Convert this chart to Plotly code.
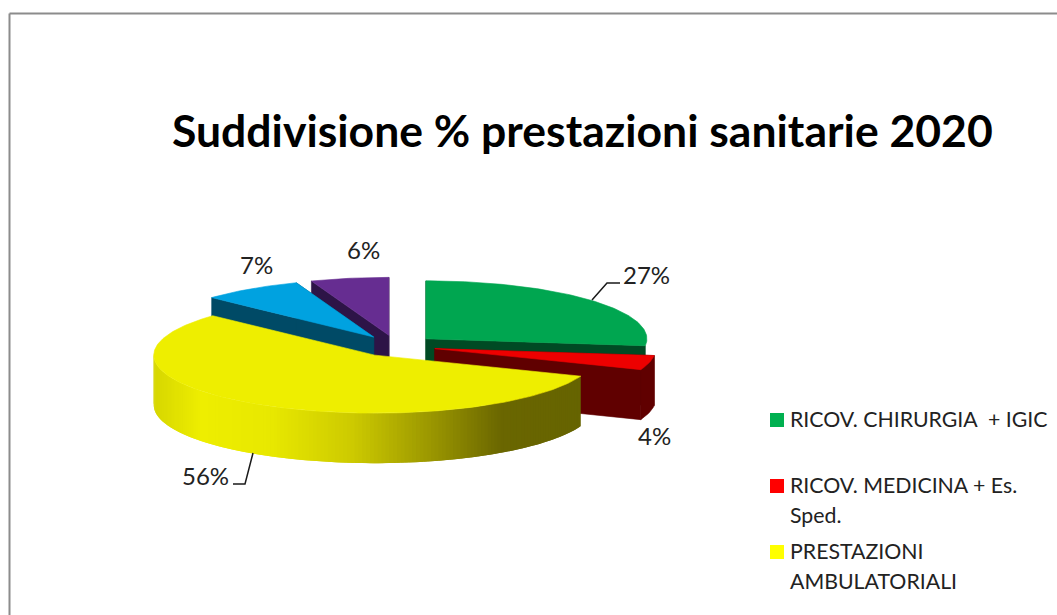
from __future__ import annotations

import numpy as np
import plotly.graph_objects as go


# slices, clockwise from 12 o'clock
CATEGORIES = [
    "RICOV. CHIRURGIA  + IGIC",
    "RICOV. MEDICINA + Es. Sped.",
    "PRESTAZIONI AMBULATORIALI",
    "Blu",
    "Viola",
]
VALUES = [26.9, 4.0, 56.0, 7.4, 5.7]
LABELS = ["27%", "4%", "56%", "7%", "6%"]
LEGEND_LINES = [
    ["RICOV. CHIRURGIA  + IGIC"],
    ["RICOV. MEDICINA + Es.", "Sped."],
    ["PRESTAZIONI", "AMBULATORIALI"],
]

TOP_COLORS = ["#00A650", "#ED0000", "#EEEE00", "#00A2E0", "#662D91"]
WALL_COLORS = ["#004A24", "#600000", None, "#004A66", "#2D1447"]
LEGEND_COLORS = ["#00B050", "#FF0000", "#FFFF00"]
FONT = "Lato, Carlito, Calibri, sans-serif"

# fake 3d projection, all in page pixels
CX, CY = 396, 346
RX, RY = 221, 58
DEPTH = 50
EXPLODE = 40
EXPLODE_Y = 0.27


def rim(apex, deg):
    rad = np.radians(deg)
    return apex[0] + RX * np.sin(rad), apex[1] - RY * np.cos(rad)


def yellow_shade(x):
    # side wall gradient of the big slice, dark olive on the right
    stops_x = [153, 200, 270, 350, 430, 500, 578]
    r = np.interp(x, stops_x, [214, 238, 232, 205, 154, 106, 102])
    g = np.interp(x, stops_x, [214, 238, 232, 202, 150, 102, 100])
    return f"rgb({r:.0f},{g:.0f},0)"


def poly(fig, xs, ys, color, width=0.6):
    fig.add_trace(
        go.Scatter(
            x=list(xs) + [xs[0]],
            y=list(ys) + [ys[0]],
            mode="lines",
            fill="toself",
            fillcolor=color,
            line=dict(width=width, color=color),
            hoverinfo="skip",
        )
    )


def draw_slice(fig, apex, start, end, top, wall):
    angles = np.arange(start, end + 0.5, 1.0)
    angles[-1] = end
    rim_x, rim_y = zip(*[rim(apex, a) for a in angles])

    if wall is None:
        # big slice: outer wall split in strips, each one overlaps the next
        # so no seams show between them
        for a0 in np.arange(start, min(end, 272), 1.0):
            x0, y0 = rim(apex, a0)
            x1, y1 = rim(apex, a0 + 2.0)
            xm, ym = rim(apex, a0 + 1.0)
            poly(
                fig,
                [x0, xm, x1, x1, xm, x0],
                [y0, ym, y1, y1 + DEPTH, ym + DEPTH, y0 + DEPTH],
                yellow_shade(xm),
                width=0,
            )
    else:
        # cut faces first, then the arc wall
        for deg in (start, end):
            x1, y1 = rim(apex, deg)
            poly(
                fig,
                [apex[0], x1, x1, apex[0]],
                [apex[1], y1, y1 + DEPTH, apex[1] + DEPTH],
                wall,
            )
        if np.cos(np.radians((start + end) / 2)) < 0.3:
            poly(
                fig,
                list(rim_x) + list(rim_x[::-1]),
                list(rim_y) + [y + DEPTH for y in rim_y[::-1]],
                wall,
            )

    poly(fig, [apex[0]] + list(rim_x), [apex[1]] + list(rim_y), top)


edges = np.concatenate([[0], np.cumsum(VALUES)]) / sum(VALUES) * 360
apexes = []
for i in range(len(VALUES)):
    mid = np.radians((edges[i] + edges[i + 1]) / 2)
    apexes.append(
        (CX + EXPLODE * np.sin(mid), CY - EXPLODE * EXPLODE_Y * np.cos(mid))
    )

fig = go.Figure()

# back slices first so the front ones cover them
for i in [4, 3, 0, 1, 2]:
    draw_slice(fig, apexes[i], edges[i], edges[i + 1], TOP_COLORS[i], WALL_COLORS[i])

# leader lines
fig.add_trace(
    go.Scatter(
        x=[592, 607, 620, None, 253, 245, 233],
        y=[300, 283, 283, None, 453, 484, 484],
        mode="lines",
        line=dict(width=1.5, color="#1A1A1A"),
        hoverinfo="skip",
    )
)

# legend squares
fig.add_trace(
    go.Scatter(
        x=[777, 777, 777],
        y=[420, 486, 552],
        mode="markers",
        marker=dict(symbol="square", size=14, color=LEGEND_COLORS, line=dict(width=0)),
        hoverinfo="skip",
    )
)

annotations = [
    dict(
        x=582,
        y=129.5,
        text="<b>Suddivisione % prestazioni sanitarie 2020</b>",
        font=dict(size=44.5, color="#000000", family=FONT),
    )
]
label_pos = [(646, 274.5), (654, 435.5), (205, 475.5), (256, 264.5), (363, 249.5)]
for text, (x, y) in zip(LABELS, label_pos):
    annotations.append(
        dict(x=x, y=y, text=text, font=dict(size=24, color="#222222", family=FONT))
    )
legend_y = [[419], [485, 515], [551, 581]]
for lines, ys in zip(LEGEND_LINES, legend_y):
    for line, y in zip(lines, ys):
        annotations.append(
            dict(
                x=788,
                y=y,
                text=line,
                xanchor="left",
                font=dict(size=21.3, color="#222222", family=FONT),
            )
        )
for ann in annotations:
    ann.update(xref="x", yref="y", showarrow=False)

fig.update_layout(
    width=1057,
    height=615,
    showlegend=False,
    margin=dict(l=0, r=0, t=0, b=0),
    paper_bgcolor="#FFFFFF",
    plot_bgcolor="#FFFFFF",
    xaxis=dict(visible=False, range=[0, 1057]),
    yaxis=dict(visible=False, range=[615, 0]),
    annotations=annotations,
    shapes=[
        dict(type="line", xref="x", yref="y", x0=9.5, y0=13.5, x1=1057, y1=13.5,
             line=dict(width=2, color="#8C8C8C")),
        dict(type="line", xref="x", yref="y", x0=9.5, y0=13.5, x1=9.5, y1=615,
             line=dict(width=2, color="#8C8C8C")),
    ],
)

fig.write_html(
    "out.html",
    config=dict(displayModeBar=False),
    post_script="document.body.style.margin='0';document.body.style.overflow='hidden';",
)
